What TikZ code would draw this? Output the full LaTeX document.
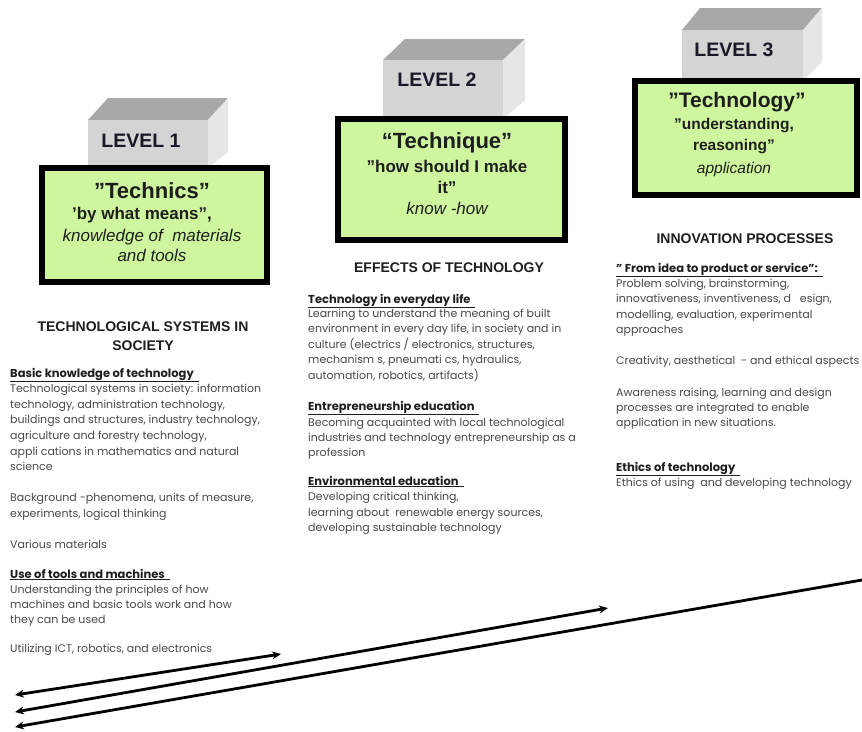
\documentclass[tikz,border=0pt]{standalone}
\usepackage{fontspec}
\setmainfont{Liberation Sans}
\newfontfamily\bodyfont{Poppins}
\usetikzlibrary{arrows.meta}
\definecolor{boxgreen}{RGB}{206,246,158}
\definecolor{bodygray}{RGB}{72,72,72}
\definecolor{headgray}{RGB}{30,30,30}
\definecolor{topgray}{RGB}{168,168,168}
\definecolor{frontgray}{RGB}{212,212,212}
\definecolor{sidegray}{RGB}{230,230,230}
\definecolor{levelink}{RGB}{25,25,40}
\begin{document}
\begin{tikzpicture}[x=1pt,y=-1pt,
  greenbox/.style={draw=black, line width=6pt, fill=boxgreen, inner sep=0pt},
  topface/.style={fill=topgray, draw=none},
  frontface/.style={fill=frontgray, draw=none},
  sideface/.style={fill=sidegray, draw=none},
  leveltxt/.style={anchor=base, inner sep=0pt, text=levelink, font=\fontsize{19.5}{22}\selectfont\bfseries},
  titletxt/.style={anchor=base, inner sep=0pt, text=headgray, font=\fontsize{22}{24}\selectfont\bfseries},
  subtxt/.style={anchor=base, inner sep=0pt, text=headgray, font=\fontsize{17}{19}\selectfont\bfseries},
  itatxt/.style={anchor=base, inner sep=0pt, text=headgray, font=\fontsize{17}{19}\selectfont\itshape},
  colhead/.style={anchor=base, inner sep=0pt, text=headgray, font=\fontsize{14}{16}\selectfont\bfseries},
  bodytxt/.style={anchor=base west, inner sep=0pt, text=bodygray, font=\bodyfont\fontsize{11}{13}\selectfont},
  subhead/.style={anchor=base west, inner sep=0pt, text=headgray, font=\bodyfont\fontsize{11.5}{13}\selectfont\bfseries},
  arrowline/.style={line width=2.8pt, black}
]
\useasboundingbox (0,0) rectangle (862,731);

% ---------- LEVEL 1 block ----------
\fill[topface] (88,120) -- (208,120) -- (228,98) -- (108,98) -- cycle;
\fill[sideface] (208,120) -- (228,98) -- (228,152) -- (208,168) -- cycle;
\fill[frontface] (88,120) rectangle (208,168);
\node[leveltxt] (lv1) at (141,147) {LEVEL 1};
\node[greenbox, minimum width=225pt, minimum height=114pt] (g1) at (154.5,225) {};
\node[titletxt] (g1a) at (152,198) {”Technics”};
\node[subtxt] (g1b) at (142,219) {’by what means”,};
\node[itatxt] (g1c) at (152,241) {knowledge of\ \ materials};
\node[itatxt] (g1d) at (152,261) {and tools};

% ---------- LEVEL 2 block ----------
\fill[topface] (383,60) -- (503,60) -- (525,39) -- (405,39) -- cycle;
\fill[sideface] (503,60) -- (525,39) -- (525,100) -- (503,119) -- cycle;
\fill[frontface] (383,60) rectangle (503,119);
\node[leveltxt] (lv2) at (437,86) {LEVEL 2};
\node[greenbox, minimum width=227pt, minimum height=121pt] (g2) at (451.5,179.5) {};
\node[titletxt] (g2a) at (447,148) {“Technique”};
\node[subtxt] (g2b) at (447,172) {”how should I make};
\node[subtxt] (g2c) at (447,193) {it”};
\node[itatxt] (g2d) at (447,214) {know -how};

% ---------- LEVEL 3 block ----------
\fill[topface] (682,30) -- (803,30) -- (822,8) -- (700,8) -- cycle;
\fill[sideface] (803,30) -- (822,8) -- (822,62) -- (803,81) -- cycle;
\fill[frontface] (682,30) rectangle (803,81);
\node[leveltxt] (lv3) at (734,56) {LEVEL 3};
\node[greenbox, minimum width=222pt, minimum height=114pt] (g3) at (746,138) {};
\node[titletxt, font=\fontsize{21}{23}\selectfont\bfseries] (g3a) at (737,107) {”Technology”};
\node[subtxt, font=\fontsize{15.5}{17}\selectfont\bfseries] (g3b) at (734,129) {”understanding,};
\node[subtxt, font=\fontsize{15.5}{17}\selectfont\bfseries] (g3c) at (734,150) {reasoning”};
\node[itatxt, font=\fontsize{15.5}{17}\selectfont\itshape] (g3d) at (734,173) {application};

% ---------- column headings ----------
\node[colhead] (h1a) at (143,331) {TECHNOLOGICAL SYSTEMS IN};
\node[colhead] (h1b) at (143,350) {SOCIETY};
\node[colhead] (h2) at (449,272) {EFFECTS OF TECHNOLOGY};
\node[colhead] (h3) at (745,243) {INNOVATION PROCESSES};

% ---------- left column ----------
\node[subhead] (c1a) at (10,377) {\underline{Basic knowledge of technology\ \ }};
\node[bodytxt] (c1b) at (10,392) {Technological systems in society: information};
\node[bodytxt] (c1c) at (10,408) {technology, administration technology,};
\node[bodytxt] (c1d) at (10,423) {buildings and structures, industry technology,};
\node[bodytxt] (c1e) at (10,439) {agriculture and forestry technology,};
\node[bodytxt] (c1f) at (10,455) {appli cations in mathematics and natural};
\node[bodytxt] (c1g) at (10,470) {science};
\node[bodytxt] (c1h) at (10,501) {Background -phenomena, units of measure,};
\node[bodytxt] (c1i) at (10,517) {experiments, logical thinking};
\node[bodytxt] (c1j) at (10,548) {Various materials};
\node[subhead] (c1k) at (10,578) {\underline{Use of tools and machines\ \ }};
\node[bodytxt] (c1l) at (10,593) {Understanding the principles of how};
\node[bodytxt] (c1m) at (10,608) {machines and basic tools work and how};
\node[bodytxt] (c1n) at (10,623) {they can be used};
\node[bodytxt] (c1o) at (10,652) {Utilizing ICT, robotics, and electronics};

% ---------- middle column ----------
\node[subhead] (c2a) at (308,303) {\underline{Technology in everyday life\ \ }};
\node[bodytxt] (c2b) at (308,317) {Learning to understand the meaning of built};
\node[bodytxt] (c2c) at (308,332) {environment in every day life, in society and in};
\node[bodytxt] (c2d) at (308,348) {culture (electrics / electronics, structures,};
\node[bodytxt] (c2e) at (308,363) {mechanism s, pneumati cs, hydraulics,};
\node[bodytxt] (c2f) at (308,379) {automation, robotics, artifacts)};
\node[subhead] (c2g) at (308,410) {\underline{Entrepreneurship education\ \ }};
\node[bodytxt] (c2h) at (308,426) {Becoming acquainted with local technological};
\node[bodytxt] (c2i) at (308,441) {industries and technology entrepreneurship as a};
\node[bodytxt] (c2j) at (308,456) {profession};
\node[subhead] (c2k) at (308,485) {\underline{Environmental education\ \ }};
\node[bodytxt] (c2l) at (308,500) {Developing critical thinking,};
\node[bodytxt] (c2m) at (308,516) {learning about\ \ renewable energy sources,};
\node[bodytxt] (c2n) at (308,531) {developing sustainable technology};

% ---------- right column ----------
\node[subhead] (c3a) at (616,272) {\underline{” From idea to product or service”:\ \ }};
\node[bodytxt] (c3b) at (616,287) {Problem solving, brainstorming,};
\node[bodytxt] (c3c) at (616,302) {innovativeness, inventiveness, d\ \ \ esign,};
\node[bodytxt] (c3d) at (616,318) {modelling, evaluation, experimental};
\node[bodytxt] (c3e) at (616,333) {approaches};
\node[bodytxt] (c3f) at (616,364) {Creativity, aesthetical\ \ - and ethical aspects};
\node[bodytxt] (c3g) at (616,396) {Awareness raising, learning and design};
\node[bodytxt] (c3h) at (616,411) {processes are integrated to enable};
\node[bodytxt] (c3i) at (616,426) {application in new situations.};
\node[subhead] (c3j) at (616,471) {\underline{Ethics of technology\ \ }};
\node[bodytxt] (c3k) at (616,486) {Ethics of using\ \ and developing technology};

% ---------- arrows ----------
\coordinate (a1s) at (15,695);
\coordinate (a1e) at (281,654);
\coordinate (a2s) at (15,712);
\coordinate (a2e) at (608,608);
\coordinate (a3s) at (15,727);
\coordinate (a3e) at (862,580);
\draw[arrowline, {Stealth[length=9pt,width=8pt]}-{Stealth[length=9pt,width=8pt]}] (a1s) -- (a1e);
\draw[arrowline, {Stealth[length=9pt,width=8pt]}-{Stealth[length=9pt,width=8pt]}] (a2s) -- (a2e);
\draw[arrowline, {Stealth[length=9pt,width=8pt]}-] (a3s) -- (a3e);
\end{tikzpicture}
\end{document}
